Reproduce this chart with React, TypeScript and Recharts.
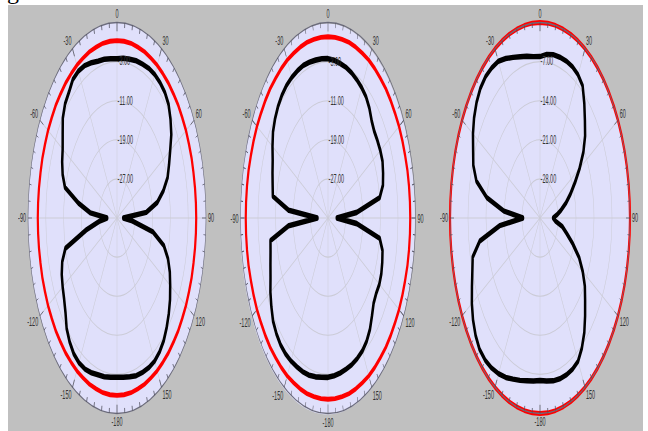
import { RadarChart, Radar, PolarGrid, PolarAngleAxis, PolarRadiusAxis } from 'recharts';

// azimuth, degrees clockwise from the top
const ANGLES = [
  0, 5, 10, 15, 20, 25, 30, 35, 40, 45, 50, 55,
  60, 65, 70, 75, 80, 85, 90, 95, 100, 105, 110, 115,
  120, 125, 130, 135, 140, 145, 150, 155, 160, 165, 170, 175,
  180, 185, 190, 195, 200, 205, 210, 215, 220, 225, 230, 235,
  240, 245, 250, 255, 260, 265, 270, 275, 280, 285, 290, 295,
  300, 305, 310, 315, 320, 325, 330, 335, 340, 345, 350, 355,
];

// spokes drawn on the grid
const SPOKES = [0, 30, 60, 90, 120, 150, 180, 210, 240, 270, 300, 330];

// gain in dB, one value per azimuth
const LEFT_PATTERN = [
  -2.4, -2.2, -2.0, -1.7, -1.5, -1.2, -1.1, -1.2, -1.5, -2.2, -3.6, -5.2,
  -7.4, -9.2, -10.8, -13.4, -16.6, -21.8, -32.2, -28.2, -18.6, -13.2, -10.6, -8.8,
  -7.4, -5.9, -4.6, -3.4, -2.3, -1.6, -1.2, -1.2, -1.4, -1.6, -2.0, -2.3,
  -2.4, -2.3, -2.0, -1.8, -1.3, -0.9, -0.8, -1.1, -1.9, -3.0, -4.8, -6.0,
  -6.8, -7.6, -8.8, -11.0, -21.0, -27.0, -30.6, -23.0, -17.4, -10.8, -9.0, -7.8,
  -6.8, -5.2, -3.2, -2.0, -1.4, -0.4, -0.3, -0.6, -1.2, -1.8, -2.0, -2.3,
];
const LEFT_REF = [
  1.3, 1.3, 1.3, 1.2, 1.2, 1.1, 1.1, 1.0, 1.0, 0.9, 0.9, 0.8,
  0.8, 0.7, 0.7, 0.6, 0.6, 0.6, 0.6, 0.6, 0.6, 0.6, 0.7, 0.7,
  0.8, 0.8, 0.9, 0.9, 1.0, 1.0, 1.1, 1.1, 1.2, 1.2, 1.3, 1.3,
  1.3, 1.3, 1.3, 1.2, 1.2, 1.1, 1.1, 1.0, 1.0, 0.9, 0.9, 0.8,
  0.8, 0.7, 0.7, 0.6, 0.6, 0.6, 0.6, 0.6, 0.6, 0.6, 0.7, 0.7,
  0.8, 0.8, 0.9, 0.9, 1.0, 1.0, 1.1, 1.1, 1.2, 1.2, 1.3, 1.3,
];

const MID_PATTERN = [
  -2.4, -2.6, -2.9, -3.1, -3.4, -3.8, -4.2, -4.7, -5.6, -6.8, -7.4, -7.4,
  -7.4, -7.5, -8.2, -9.0, -11.0, -21.8, -31.0, -21.8, -11.0, -9.2, -8.6, -8.1,
  -7.9, -8.1, -7.8, -6.6, -5.2, -4.2, -3.6, -3.3, -3.1, -3.0, -2.8, -2.6,
  -2.4, -2.3, -2.0, -1.7, -1.5, -1.4, -1.2, -1.1, -1.2, -1.6, -2.2, -3.4,
  -4.6, -6.0, -7.0, -7.8, -8.3, -17.0, -30.2, -17.0, -9.4, -8.8, -8.0, -7.1,
  -5.7, -4.3, -3.4, -2.7, -2.2, -1.9, -1.8, -1.8, -1.8, -2.0, -2.2, -2.3,
];
const MID_REF = [
  2.1, 2.1, 2.1, 2.2, 2.2, 2.2, 2.3, 2.3, 2.3, 2.4, 2.4, 2.4,
  2.5, 2.5, 2.5, 2.6, 2.6, 2.6, 2.6, 2.6, 2.6, 2.6, 2.5, 2.5,
  2.5, 2.4, 2.4, 2.4, 2.3, 2.3, 2.3, 2.2, 2.2, 2.2, 2.1, 2.1,
  2.1, 2.1, 2.1, 2.2, 2.2, 2.2, 2.3, 2.3, 2.3, 2.4, 2.4, 2.4,
  2.5, 2.5, 2.5, 2.6, 2.6, 2.6, 2.6, 2.6, 2.6, 2.6, 2.5, 2.5,
  2.5, 2.4, 2.4, 2.4, 2.3, 2.3, 2.3, 2.2, 2.2, 2.2, 2.1, 2.1,
];

const RIGHT_PATTERN = [
  -6.1, -5.6, -5.3, -5.2, -5.1, -5.1, -5.4, -6.1, -8.2, -10.3, -12.1, -14.4,
  -17.2, -20.0, -22.4, -24.5, -26.6, -28.4, -29.9, -29.0, -26.2, -24.2, -21.4, -18.2,
  -15.8, -13.7, -12.1, -10.2, -8.2, -6.6, -5.4, -5.1, -5.1, -5.2, -5.4, -5.7,
  -5.9, -5.7, -5.4, -4.9, -4.3, -3.5, -2.8, -2.2, -1.8, -1.75, -2.3, -3.2,
  -4.4, -5.8, -7.0, -7.9, -11.2, -19.3, -28.4, -21.0, -14.0, -9.4, -7.4, -6.3,
  -4.9, -3.7, -2.8, -2.2, -2.0, -2.2, -2.6, -3.5, -4.4, -5.1, -5.6, -6.0,
];
const RIGHT_REF = [
  0, 0, 0, 0, 0, 0, 0, 0, 0, 0, 0, 0,
  0, 0, 0, 0, 0, 0, 0, 0, 0, 0, 0, 0,
  0, 0, 0, 0, 0, 0, 0, 0, 0, 0, 0, 0,
  0, 0, 0, 0, 0, 0, 0, 0, 0, 0, 0, 0,
  0, 0, 0, 0, 0, 0, 0, 0, 0, 0, 0, 0,
  0, 0, 0, 0, 0, 0, 0, 0, 0, 0, 0, 0,
];

const LEFT_RINGS = [-27, -19, -11, -3];
const RIGHT_RINGS = [-28, -21, -14, -7];

const BOX = 210;
const C = BOX / 2;
const PAGE_CY = 217.5;
const PAGE_RY = 195.5;
const FONT = '"Liberation Sans", Arial, sans-serif';

function makeAngleTick(r: number) {
  return function AngleTick(props: any) {
    const deg: number = props.payload.value;
    const a = (props.payload.coordinate * Math.PI) / 180;
    const ux = Math.cos(a);
    const uy = -Math.sin(a);
    const major = deg % 30 === 0;
    const len = major ? 4 : 2.2;
    const anchor = ux > 0.1 ? 'start' : ux < -0.1 ? 'end' : 'middle';
    const base = uy < -0.1 ? 'auto' : uy > 0.1 ? 'hanging' : 'central';
    return (
      <g>
        <line
          x1={C + ux * r}
          y1={C + uy * r}
          x2={C + ux * (r - len)}
          y2={C + uy * (r - len)}
          stroke="#4a4a58"
          strokeWidth={0.45}
        />
        {major && (
          <text
            x={C + ux * (r + 2)}
            y={C + uy * (r + 2)}
            textAnchor={anchor}
            dominantBaseline={base}
            fontSize={5.5}
            fontFamily={FONT}
            fill="#333"
          >
            {deg >= 180 ? deg - 360 : deg}
          </text>
        )}
      </g>
    );
  };
}

function RingTick(props: any) {
  return (
    <text x={props.x + 0.6} y={props.y} fontSize={5.5} fontFamily={FONT} fill="#333" dominantBaseline="central">
      {Number(props.payload.value).toFixed(2)}
    </text>
  );
}

interface PanelProps {
  pattern: number[];
  reference: number[];
  domain: [number, number];
  rings: number[];
  cx: number;
  rx: number;
}

function PolarPanel({ pattern, reference, domain, rings, cx, rx }: PanelProps) {
  const data = ANGLES.map((angle, i) => ({ angle, pattern: pattern[i], reference: reference[i] }));
  return (
    <div
      style={{
        position: 'absolute',
        left: cx - C,
        top: PAGE_CY - C,
        width: BOX,
        height: BOX,
        transform: `scaleY(${PAGE_RY / rx})`,
        transformOrigin: `${C}px ${C}px`,
      }}
    >
      <div
        style={{
          position: 'absolute',
          left: C - rx,
          top: C - rx,
          width: rx * 2,
          height: rx * 2,
          borderRadius: '50%',
          background: '#e0e0fb',
        }}
      />
      <div style={{ position: 'absolute', left: 0, top: 0 }}>
        <RadarChart width={BOX} height={BOX} cx={C} cy={C} outerRadius={rx} data={data} margin={{ top: 0, right: 0, bottom: 0, left: 0 }}>
          <PolarGrid
            gridType="circle"
            polarAngles={SPOKES.map((a) => 90 - a)}
            stroke="#cbcbd6"
            strokeWidth={0.5}
          />
          <PolarAngleAxis
            dataKey="angle"
            axisLineType="circle"
            axisLine={{ stroke: '#6c6c7c', strokeWidth: 0.6 }}
            tickLine={false}
            tick={makeAngleTick(rx)}
          />
          <PolarRadiusAxis
            angle={90}
            type="number"
            domain={domain}
            ticks={rings}
            axisLine={false}
            tick={RingTick}
          />
          <Radar
            dataKey="reference"
            stroke="#ff0000"
            strokeWidth={2.2}
            strokeLinejoin="round"
            fill="none"
            fillOpacity={0}
            dot={false}
            isAnimationActive={false}
          />
          <Radar
            dataKey="pattern"
            stroke="#000000"
            strokeWidth={2.5}
            strokeLinejoin="round"
            fill="none"
            fillOpacity={0}
            dot={false}
            isAnimationActive={false}
          />
        </RadarChart>
      </div>
    </div>
  );
}

export default function App() {
  return (
    <div style={{ position: 'absolute', left: 0, top: 0, width: 648, height: 431, background: '#fff', overflow: 'hidden' }}>
      <svg width={30} height={6} style={{ position: 'absolute', left: 0, top: 0 }}>
        <text x={7} y={-1.5} fontSize={24} fontFamily='"Liberation Serif", serif' fill="#000">g</text>
      </svg>
      <div style={{ position: 'absolute', left: 8, top: 5, width: 635, height: 426, background: '#c0c0c0', overflow: 'hidden' }}>
        <div style={{ position: 'absolute', left: -8, top: -5 }}>
          <PolarPanel pattern={LEFT_PATTERN} reference={LEFT_REF} domain={[-35, 5]} rings={LEFT_RINGS} cx={117} rx={89} />
          <PolarPanel pattern={MID_PATTERN} reference={MID_REF} domain={[-35, 5]} rings={LEFT_RINGS} cx={327.5} rx={87.5} />
          <PolarPanel pattern={RIGHT_PATTERN} reference={RIGHT_REF} domain={[-35, 0]} rings={RIGHT_RINGS} cx={540} rx={90} />
        </div>
      </div>
    </div>
  );
}
